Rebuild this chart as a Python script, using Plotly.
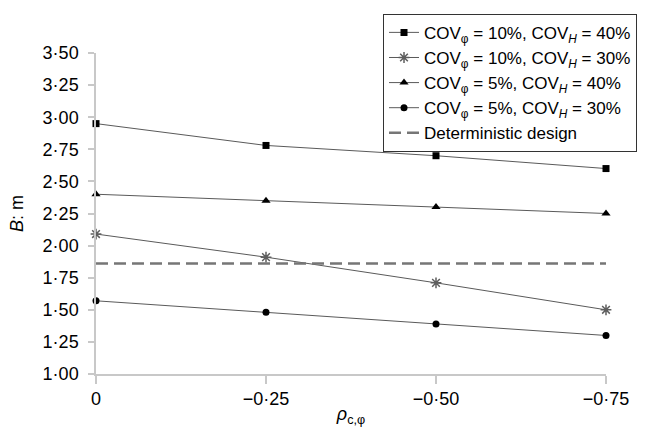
import plotly.graph_objects as go

rho = [0, -0.25, -0.50, -0.75]
b_cov10_h40 = [2.95, 2.78, 2.70, 2.60]
b_cov10_h30 = [2.09, 1.91, 1.71, 1.50]
b_cov5_h40 = [2.40, 2.35, 2.30, 2.25]
b_cov5_h30 = [1.57, 1.48, 1.39, 1.30]
det_x = [0, -0.75]
det_b = [1.86, 1.86]

x_tickvals = [0, -0.25, -0.50, -0.75]
x_ticktext = ["0", "\u22120·25", "\u22120·50", "\u22120·75"]
y_tickvals = [1.00, 1.25, 1.50, 1.75, 2.00, 2.25, 2.50, 2.75, 3.00, 3.25, 3.50]
y_ticktext = ["1·00", "1·25", "1·50", "1·75", "2·00", "2·25", "2·50", "2·75", "3·00", "3·25", "3·50"]

names = [
    "COV<sub>φ</sub> = 10%, COV<sub><i>H</i></sub> = 40%",
    "COV<sub>φ</sub> = 10%, COV<sub><i>H</i></sub> = 30%",
    "COV<sub>φ</sub> = 5%, COV<sub><i>H</i></sub> = 40%",
    "COV<sub>φ</sub> = 5%, COV<sub><i>H</i></sub> = 30%",
    "Deterministic design",
]

line_col = "#5a5a5a"
fig = go.Figure()
fig.add_trace(go.Scatter(x=rho, y=b_cov10_h40, name=names[0], mode="lines+markers",
                         line=dict(color=line_col, width=1),
                         marker=dict(symbol="square", size=7, color="black"), cliponaxis=False))
fig.add_trace(go.Scatter(x=rho, y=b_cov10_h30, name=names[1], mode="lines+markers",
                         line=dict(color=line_col, width=1),
                         marker=dict(symbol="asterisk-open", size=9, color="#5e5e5e",
                                     line=dict(color="#5e5e5e", width=1.5)), cliponaxis=False))
fig.add_trace(go.Scatter(x=rho, y=b_cov5_h40, name=names[2], mode="lines+markers",
                         line=dict(color=line_col, width=1),
                         marker=dict(symbol="triangle-up", size=8, color="black"), cliponaxis=False))
fig.add_trace(go.Scatter(x=rho, y=b_cov5_h30, name=names[3], mode="lines+markers",
                         line=dict(color=line_col, width=1),
                         marker=dict(symbol="circle", size=7, color="black"), cliponaxis=False))
fig.add_trace(go.Scatter(x=det_x, y=det_b, name=names[4], mode="lines",
                         line=dict(color="#767676", width=2.5, dash="12px,6px"), cliponaxis=False))

fig.update_layout(
    width=647, height=427,
    margin=dict(l=96, r=41, t=53, b=53, autoexpand=False),
    paper_bgcolor="white", plot_bgcolor="white",
    font=dict(family="Liberation Sans, Arial, sans-serif", size=17, color="black"),
    showlegend=True,
    legend=dict(x=1.0608, y=1.122, xanchor="right", yanchor="top",
                bordercolor="#333333", borderwidth=1, bgcolor="white",
                font=dict(size=17), tracegroupgap=0, itemwidth=30),
    xaxis=dict(range=[0, -0.75], tickvals=x_tickvals, ticktext=x_ticktext, automargin=False,
               showgrid=False, zeroline=False, showline=True, linecolor="#c8c8c8", linewidth=1.5,
               ticks="outside", ticklen=8, tickcolor="#c8c8c8", tickwidth=1.5,
               tickfont=dict(size=18), ticklabelstandoff=0,
               title=dict(text="<i>ρ</i><sub>c,φ</sub>", font=dict(size=18), standoff=12)),
    yaxis=dict(range=[1.0, 3.5], tickvals=y_tickvals, ticktext=y_ticktext, automargin=False,
               showgrid=False, zeroline=False, showline=True, linecolor="#c8c8c8", linewidth=1.5,
               ticks="outside", ticklen=6, tickcolor="#c8c8c8", tickwidth=1.5,
               tickfont=dict(size=18), ticklabelstandoff=6,
               title=dict(text="<i>B</i>: m", font=dict(size=18), standoff=14)),
)

fig.write_html("out.html")
